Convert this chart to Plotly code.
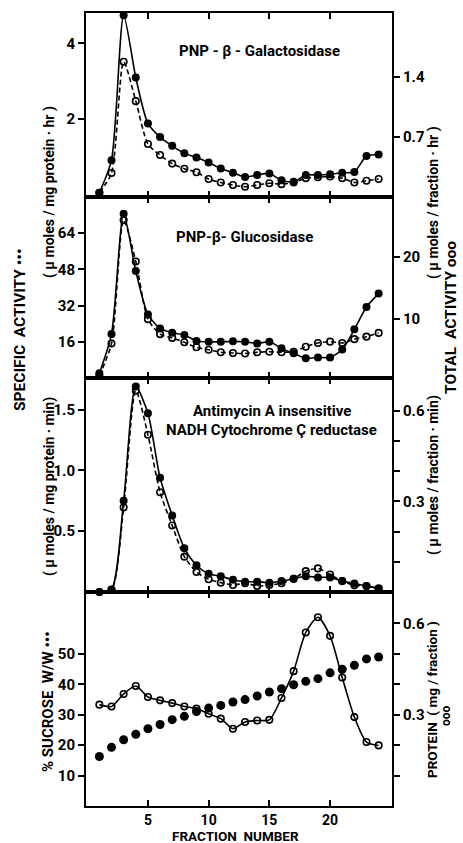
import plotly.graph_objects as go

fractions = list(range(1, 25))

gal_specific = [0.06, 0.92, 4.74, 3.10, 1.89, 1.53, 1.30, 1.10, 0.99, 0.86, 0.70, 0.59,
                0.48, 0.53, 0.57, 0.39, 0.35, 0.53, 0.53, 0.55, 0.59, 0.61, 1.03, 1.07]
gal_total = [0.05, 0.28, 1.58, 1.12, 0.62, 0.49, 0.39, 0.33, 0.29, 0.21, 0.17, 0.14,
             0.12, 0.14, 0.16, 0.15, 0.17, 0.22, 0.23, 0.24, 0.22, 0.17, 0.19, 0.21]

glu_specific = [2.1, 19.4, 72.6, 47.3, 28.1, 21.9, 20.0, 19.0, 16.4, 16.0, 16.0, 16.2,
                16.0, 15.3, 16.0, 13.1, 10.9, 8.7, 9.1, 9.1, 12.6, 21.5, 31.4, 37.3]
glu_total = [0.96, 6.1, 25.8, 19.2, 10.0, 7.6, 7.0, 6.3, 5.5, 5.1, 4.7, 4.6,
             4.5, 4.7, 4.8, 4.7, 4.8, 5.6, 6.2, 6.4, 6.2, 6.8, 7.2, 7.8]

nadh_specific = [0.0, 0.02, 0.75, 1.69, 1.47, 0.94, 0.63, 0.36, 0.22, 0.15, 0.13, 0.10,
                 0.085, 0.085, 0.077, 0.09, 0.11, 0.13, 0.12, 0.12, 0.09, 0.07, 0.05, 0.03]
nadh_total = [0.0, 0.007, 0.28, 0.666, 0.52, 0.33, 0.22, 0.117, 0.066, 0.042, 0.031, 0.023,
              0.029, 0.020, 0.023, 0.029, 0.044, 0.069, 0.078, 0.058, 0.036, 0.022, 0.02, 0.011]

sucrose = [16.3, 19.3, 21.8, 23.6, 25.4, 26.8, 28.4, 29.5, 31.1, 32.2, 33.1, 34.2,
           35.0, 36.2, 37.5, 38.6, 39.9, 41.0, 41.9, 43.8, 45.0, 46.3, 48.4, 49.0]
protein = [0.333, 0.327, 0.368, 0.394, 0.358, 0.347, 0.338, 0.327, 0.320, 0.303, 0.287, 0.254,
           0.276, 0.281, 0.283, 0.355, 0.443, 0.570, 0.620, 0.559, 0.422, 0.292, 0.210, 0.199]

x_ticks = [5, 10, 15, 20]

FONT = "Roboto, DejaVu Sans, sans-serif"

L, R, T, B = 86, 392, 13, 806
W, H = 463, 843


def px(xp):
    return (xp - L) / (R - L)


def py(yp):
    return (B - yp) / (B - T)


fig = go.Figure()

filled = dict(symbol="circle", size=8, color="black")
opened = dict(symbol="circle-open", size=6.5, color="black", line=dict(width=1.6, color="black"))


def add(xa, ya, y, marker, dash, mode="lines+markers", smooth=0.7):
    fig.add_trace(go.Scatter(
        x=fractions, y=y, xaxis=xa, yaxis=ya, mode=mode,
        marker=marker,
        line=dict(color="black", width=1.6, dash=dash, shape="spline", smoothing=smooth),
        showlegend=False, cliponaxis=False))


# panel 1 (top)
add("x4", "y8", gal_total, opened, "5px,3px")
add("x4", "y7", gal_specific, filled, "solid")
# panel 2
add("x3", "y6", glu_total, opened, "5px,3px")
add("x3", "y5", glu_specific, filled, "solid")
# panel 3
add("x2", "y4", nadh_total, opened, "5px,3px")
add("x2", "y3", nadh_specific, filled, "solid")
# panel 4 (bottom)
add("x", "y2", protein, opened, "solid")
fig.add_trace(go.Scatter(x=fractions, y=sucrose, xaxis="x", yaxis="y", mode="markers",
                         marker=dict(symbol="circle", size=9, color="black"),
                         showlegend=False, cliponaxis=False))

tickfont = dict(family=FONT, size=15, color="black", weight="bold")

xcommon = dict(range=[-0.1, 25.1], showline=True, linewidth=2, linecolor="black",
               mirror="ticks", ticks="inside", ticklen=6, tickwidth=2, tickcolor="black",
               tickvals=x_ticks, showgrid=False, zeroline=False, tickfont=tickfont,
               automargin=False)

ycommon = dict(showline=True, linewidth=2, linecolor="black", ticks="outside",
               ticklen=6, tickwidth=2, tickcolor="black", showgrid=False, zeroline=False,
               tickfont=tickfont, automargin=False)

d4 = [0, py(592)]
d3 = [py(592), py(378)]
d2 = [py(378), py(197)]
d1 = [py(197), 1]

fig.update_layout(
    width=W, height=H,
    margin=dict(l=L, r=W - R, t=T, b=H - B),
    paper_bgcolor="white", plot_bgcolor="white",
    font=dict(family=FONT, color="black"),
    xaxis=dict(**{**xcommon, "tickfont": dict(family=FONT, size=14, color="black", weight="bold")},
               anchor="y", ticktext=["5", "10", "15", "20"], ticklabelstandoff=0),
    xaxis2=dict(**xcommon, anchor="y3", matches="x", showticklabels=False),
    xaxis3=dict(**xcommon, anchor="y5", matches="x", showticklabels=False),
    xaxis4=dict(**xcommon, anchor="y7", matches="x", showticklabels=False),
    yaxis=dict(**ycommon, domain=d4, anchor="x", range=[0, 70.4],
               tickvals=[10, 20, 30, 40, 50]),
    yaxis2=dict(**ycommon, domain=d4, anchor="x", overlaying="y", side="right",
                range=[0, 0.703], tickvals=[0.1, 0.2, 0.3, 0.4, 0.5, 0.6],
                ticktext=["", "", "0.3", "", "", "0.6"]),
    yaxis3=dict(**ycommon, domain=d3, anchor="x2", range=[0, 1.76],
                tickvals=[0.5, 1.0, 1.5], ticktext=["0.5", "1.0", "1.5"]),
    yaxis4=dict(**ycommon, domain=d3, anchor="x2", overlaying="y3", side="right",
                range=[0, 0.708], tickvals=[0.1, 0.2, 0.3, 0.4, 0.5, 0.6],
                ticktext=["", "", "0.3", "", "", "0.6"]),
    yaxis5=dict(**ycommon, domain=d2, anchor="x3", range=[0, 80],
                tickvals=[16, 32, 48, 64]),
    yaxis6=dict(**ycommon, domain=d2, anchor="x3", overlaying="y5", side="right",
                range=[0.6, 29.5], tickvals=[10, 20]),
    yaxis7=dict(**ycommon, domain=d1, anchor="x4", range=[-0.05, 4.8],
                tickvals=[2, 4]),
    yaxis8=dict(**ycommon, domain=d1, anchor="x4", overlaying="y7", side="right",
                range=[0, 2.15], tickvals=[0.7, 1.4], ticktext=["0.7", "1.4"]),
)

ann = []


def text(xp, yp, s, size=14, angle=0):
    ann.append(dict(x=px(xp), y=py(yp), xref="paper", yref="paper", text=s,
                    showarrow=False, textangle=angle, xanchor="center", yanchor="middle",
                    font=dict(family=FONT, size=size, color="black", weight="bold")))


text(259, 51, "PNP - β - Galactosidase", 15)
text(244, 237, "PNP-β- Glucosidase", 15)
text(272, 411, "Antimycin A insensitive", 15)
text(271, 430, "NADH Cytochrome Ç reductase", 15)
text(235, 836, "FRACTION  NUMBER", 13.5)

text(20, 330, "SPECIFIC  ACTIVITY •••", 15.5, -90)
text(49, 192, "( μ moles / mg protein · hr )", 14, -90)
text(49, 487, "( μ moles / mg protein · min)", 14, -90)
text(48, 702, "% SUCROSE  W/W •••", 15, -90)

text(433, 203, "( μ moles / fraction · hr )", 14, -90)
text(451, 318, "TOTAL  ACTIVITY ooo", 15.5, -90)
text(433, 475, "( μ moles / fraction · min)", 14, -90)
text(432, 700, "PROTEIN  ( mg / fraction )", 13.5, -90)
text(446, 716, "ooo", 12, -90)

fig.update_layout(annotations=ann)

fig.write_html("out.html",
               config={"displayModeBar": False},
               post_script="document.body.style.margin='0px';document.body.style.overflow='hidden';")
